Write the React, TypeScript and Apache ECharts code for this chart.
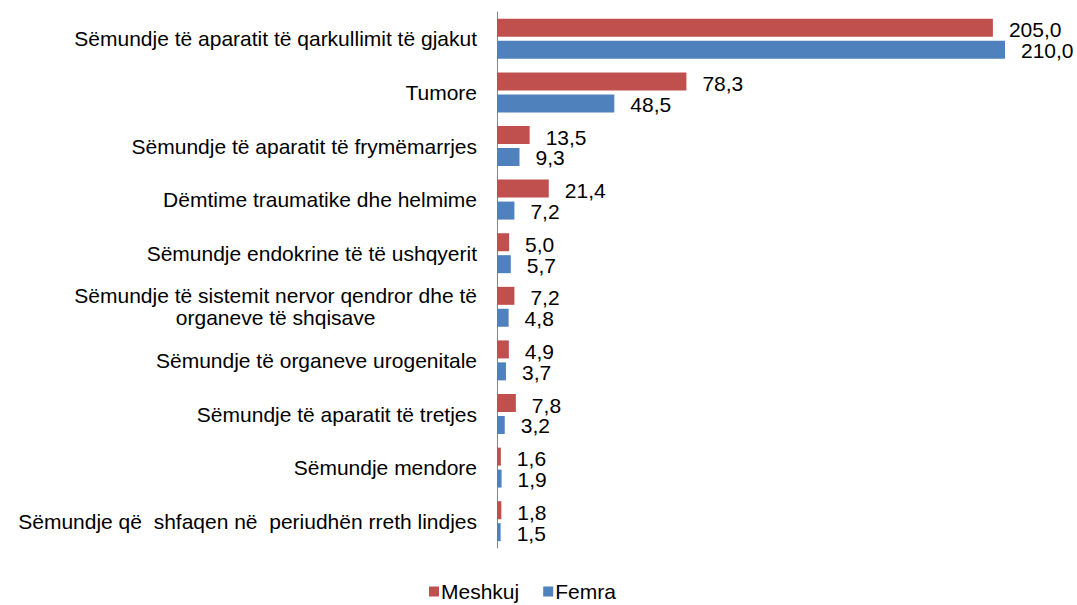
import React, { useEffect, useRef } from "react";
import * as echarts from "echarts";

const categories = [
  "Sëmundje të aparatit të qarkullimit të gjakut",
  "Tumore",
  "Sëmundje të aparatit të frymëmarrjes",
  "Dëmtime traumatike dhe helmime",
  "Sëmundje endokrine të të ushqyerit",
  "Sëmundje të sistemit nervor qendror dhe të\norganeve të shqisave",
  "Sëmundje të organeve urogenitale",
  "Sëmundje të aparatit të tretjes",
  "Sëmundje mendore",
  "Sëmundje që  shfaqen në  periudhën rreth lindjes",
];

const meshkuj = [205.0, 78.3, 13.5, 21.4, 5.0, 7.2, 4.9, 7.8, 1.6, 1.8];
const femra = [210.0, 48.5, 9.3, 7.2, 5.7, 4.8, 3.7, 3.2, 1.9, 1.5];

const FONT = "'Liberation Sans', Arial, sans-serif";
const FS = 21;

export default function App() {
  const ref = useRef<HTMLDivElement>(null);
  useEffect(() => {
    if (!ref.current) return;
    const chart = echarts.init(ref.current, undefined, { renderer: "svg" });
    const fmt = (p: any) => Number(p.value).toFixed(1).replace(".", ",");
    chart.setOption({
      animation: false,
      textStyle: { fontFamily: FONT },
      grid: { left: 497, width: 508, top: 12, bottom: 57, containLabel: false },
      legend: {
        top: 581,
        left: 424,
        itemWidth: 10,
        itemHeight: 10,
        itemGap: 24,
        icon: "rect",
        padding: [0, 5, 0, 5],
        textStyle: { fontSize: FS, lineHeight: 21, color: "#000", fontFamily: FONT, padding: [0, 0, 0, -3] },
        data: ["Meshkuj", "Femra"],
      },
      xAxis: {
        type: "value",
        min: 0,
        max: 210,
        show: false,
      },
      yAxis: {
        type: "category",
        inverse: true,
        data: categories,
        axisLine: { show: true, lineStyle: { color: "#868686", width: 1 } },
        axisTick: { show: false },
        axisLabel: {
          margin: 20,
          color: "#000",
          fontSize: FS,
          fontFamily: FONT,
          formatter: (v: string) =>
            v
              .split("\n")
              .map((l) => "{c|" + l + "}")
              .join("\n"),
          rich: {
            c: { fontSize: FS, fontFamily: FONT, color: "#000", align: "center", lineHeight: 22 },
          },
        },
      },
      series: [
        {
          name: "Meshkuj",
          type: "bar",
          data: meshkuj,
          barWidth: 18,
          barGap: "22%",
          itemStyle: { color: "#C0504D" },
          label: {
            show: true,
            position: "right",
            distance: 16,
            offset: [0, 2],
            color: "#000",
            fontSize: FS,
            lineHeight: 19,
            fontFamily: FONT,
            formatter: fmt,
          },
        },
        {
          name: "Femra",
          type: "bar",
          data: femra,
          barWidth: 18,
          itemStyle: { color: "#4F81BD" },
          label: {
            show: true,
            position: "right",
            distance: 16,
            offset: [0, 1],
            color: "#000",
            fontSize: FS,
            lineHeight: 19,
            fontFamily: FONT,
            formatter: fmt,
          },
        },
      ],
    });
    return () => chart.dispose();
  }, []);
  return <div ref={ref} style={{ width: 1077, height: 605, position: "absolute", left: 0, top: 0 }} />;
}
